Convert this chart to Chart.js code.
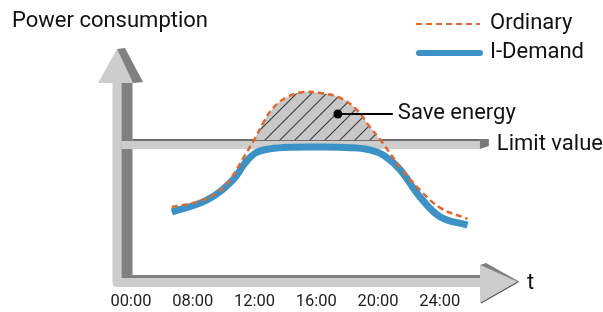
<!DOCTYPE html>
<html>
<head>
<meta charset="utf-8">
<title>Power consumption</title>
<script src="https://cdn.jsdelivr.net/npm/chart.js@4.4.0/dist/chart.umd.min.js"></script>
<style>
    html, body { margin: 0; padding: 0; background: #fff; }
    #wrap { width: 603px; height: 312px; }
</style>
</head>
<body>
<div id="wrap"><canvas id="myChart" width="603" height="312"></canvas></div>
<script>
var timeLabels = ['00:00', '08:00', '12:00', '16:00', '20:00', '24:00'];

// x = position on the time axis (0 = 00:00 ... 5 = 24:00), y = power (0-100)
var ordinaryX = [0.66, 1.07, 1.39, 1.60, 1.82, 2.01, 2.14, 2.30, 2.53, 2.79, 3.06, 3.39, 3.66, 3.87, 4.04, 4.36, 4.68, 5.01, 5.45];
var ordinaryY = [33.5, 35.6, 39.3, 44.8, 54.0, 62.3, 68.6, 74.9, 79.5, 81.6, 81.2, 79.1, 74.1, 66.9, 61.5, 50.2, 40.6, 33.1, 28.5];

var demandX = [0.66, 1.23, 1.65, 1.85, 2.03, 2.25, 2.58, 3.06, 3.55, 3.88, 4.10, 4.36, 4.68, 5.01, 5.45];
var demandY = [31.4, 36.4, 44.8, 52.0, 56.3, 57.8, 58.5, 58.6, 58.3, 57.3, 55.0, 49.0, 37.7, 29.3, 25.9];

var limitValue = 61.5;
var limitEnd = 5.65;
var saveEnergyX = 3.35;
var saveEnergyY = 72.4;

var FONT = 'Roboto, "Liberation Sans", sans-serif';
var TEXT = '#111';

function toPoints(xs, ys){
    var pts = [];
    for(var i = 0; i < xs.length; i++){
        pts.push({x: xs[i], y: ys[i]});
    }
    return pts;
}

function makeHatch(){
    var s = 15;
    var c = document.createElement('canvas');
    c.width = s; c.height = s;
    var g = c.getContext('2d');
    g.fillStyle = '#c8c8c8';
    g.fillRect(0, 0, s, s);
    g.strokeStyle = '#3a3a3a';
    g.lineWidth = 1.1;
    g.beginPath();
    g.moveTo(-1, s + 1); g.lineTo(s + 1, -1);
    g.moveTo(-1, 1); g.lineTo(1, -1);
    g.moveTo(s - 1, s + 1); g.lineTo(s + 1, s - 1);
    g.stroke();
    return g.createPattern(c, 'repeat');
}

function poly(ctx, pts, color){
    ctx.fillStyle = color;
    ctx.beginPath();
    ctx.moveTo(pts[0][0], pts[0][1]);
    for(var i = 1; i < pts.length; i++) ctx.lineTo(pts[i][0], pts[i][1]);
    ctx.closePath();
    ctx.fill();
}

var LIGHT = '#cdcdcd';
var DARK = '#808080';

var decor = {
    id: 'decor',
    beforeDatasetsDraw: function(chart){
        var ctx = chart.ctx;
        var a = chart.chartArea;
        var L = a.left, T = a.top, B = a.bottom, R = a.right;
        var xs = chart.scales.x, ys = chart.scales.y;
        ctx.save();

        // axes (3d arrows)
        ctx.fillStyle = LIGHT;
        ctx.beginPath();
        ctx.moveTo(L, T + 35);
        ctx.lineTo(L + 9, T + 35);
        ctx.lineTo(L + 9, B - 9);
        ctx.lineTo(R - 40, B - 9);
        ctx.lineTo(R - 40, B);
        ctx.lineTo(L + 4, B);
        ctx.quadraticCurveTo(L, B, L, B - 4);
        ctx.closePath();
        ctx.fill();
        ctx.fillStyle = DARK;
        ctx.fillRect(L + 9, T + 35, 11, B - 12 - (T + 35));
        ctx.fillRect(L + 9, B - 12, R - 40 - (L + 9), 3);

        // y arrow head
        poly(ctx, [[L - 14.5, T + 35], [L + 4.5, T + 1], [L + 20.5, T + 35]], LIGHT);
        poly(ctx, [[L + 4.5, T + 1], [L + 12.5, T], [L + 30.5, T + 34], [L + 20.5, T + 35]], DARK);

        // x arrow head
        poly(ctx, [[R - 40, B - 22], [R - 2, B - 5], [R - 40, B + 16]], LIGHT);
        poly(ctx, [[R - 40, B - 22], [R - 34, B - 24], [R, B - 5], [R - 2, B - 5]], DARK);
        ctx.strokeStyle = '#555';
        ctx.lineWidth = 1.2;
        ctx.beginPath();
        ctx.moveTo(R - 2, B - 5);
        ctx.lineTo(R - 39, B + 16);
        ctx.stroke();

        // limit value bar
        var yTop = ys.getPixelForValue(limitValue);
        var xEnd = xs.getPixelForValue(limitEnd);
        ctx.fillStyle = LIGHT;
        ctx.fillRect(L + 9, yTop + 1, xEnd - (L + 9), 8);
        ctx.fillStyle = '#6e6e6e';
        ctx.fillRect(L + 20, yTop - 1, xEnd - (L + 20), 2);
        poly(ctx, [[xEnd, yTop - 1], [xEnd + 9, yTop - 1], [xEnd + 9, yTop + 6], [xEnd, yTop + 9]], '#7a7a7a');

        ctx.restore();
    },
    afterDatasetsDraw: function(chart){
        var ctx = chart.ctx;
        var a = chart.chartArea;
        var xs = chart.scales.x, ys = chart.scales.y;
        ctx.save();

        // save energy marker
        var px = xs.getPixelForValue(saveEnergyX);
        var py = ys.getPixelForValue(saveEnergyY);
        ctx.fillStyle = '#000';
        ctx.beginPath();
        ctx.arc(px, py, 4.5, 0, Math.PI * 2);
        ctx.fill();
        ctx.strokeStyle = '#000';
        ctx.lineWidth = 2;
        ctx.beginPath();
        ctx.moveTo(px, py);
        ctx.lineTo(px + 55, py);
        ctx.stroke();

        ctx.font = '22px ' + FONT;
        ctx.fillStyle = TEXT;
        ctx.textBaseline = 'middle';
        ctx.textAlign = 'left';
        ctx.fillText('Save energy', px + 60, py);

        var yTop = ys.getPixelForValue(limitValue);
        var xEnd = xs.getPixelForValue(limitEnd);
        ctx.fillText('Limit value', xEnd + 17, yTop + 4);

        ctx.fillText('Power consumption', 12, 21);
        ctx.fillText('t', a.right + 7, a.bottom - 4);

        // legend
        var ds = chart.data.datasets;
        var rows = [24, 53];
        for(var i = 0; i < ds.length; i++){
            ctx.strokeStyle = ds[i].borderColor;
            ctx.lineWidth = i == 0 ? 2 : 6;
            ctx.lineCap = i == 0 ? 'butt' : 'round';
            ctx.setLineDash(ds[i].borderDash || []);
            ctx.beginPath();
            ctx.moveTo(i == 0 ? 416 : 419, rows[i]);
            ctx.lineTo(480, rows[i]);
            ctx.stroke();
            ctx.setLineDash([]);
            ctx.fillText(ds[i].label, 490, rows[i] - 1);
        }
        ctx.restore();
    }
};

var ctx = document.getElementById('myChart');
var myChart = new Chart(ctx, {
    type: 'line',
    data: {
        datasets: [{
            label: 'Ordinary',
            data: toPoints(ordinaryX, ordinaryY),
            borderColor: '#e2672a',
            borderWidth: 2.5,
            borderDash: [6, 4],
            pointRadius: 0,
            tension: 0.4,
            fill: {
                target: {value: limitValue},
                above: makeHatch(),
                below: 'rgba(0,0,0,0)'
            }
        }, {
            label: 'I-Demand',
            data: toPoints(demandX, demandY),
            borderColor: '#3a92c6',
            borderWidth: 7,
            pointRadius: 0,
            tension: 0.4,
            fill: false
        }]
    },
    options: {
        responsive: false,
        animation: false,
        devicePixelRatio: 1,
        layout: {padding: {left: 112.5, right: 83, top: 48, bottom: 0}},
        plugins: {
            legend: {display: false},
            tooltip: {enabled: false}
        },
        scales: {
            x: {
                type: 'linear',
                min: -0.3,
                max: 6.3,
                grid: {display: false, drawTicks: false},
                border: {display: false},
                afterBuildTicks: function(scale){
                    scale.ticks = timeLabels.map(function(l, i){ return {value: i}; });
                },
                afterFit: function(scale){ scale.height = 25; },
                ticks: {
                    autoSkip: false,
                    maxRotation: 0,
                    padding: 5,
                    color: '#222',
                    font: {family: FONT, size: 16.5},
                    callback: function(v){ return timeLabels[v]; }
                }
            },
            y: {
                display: false,
                min: 0,
                max: 100
            }
        }
    },
    plugins: [decor]
});
</script>
</body>
</html>
